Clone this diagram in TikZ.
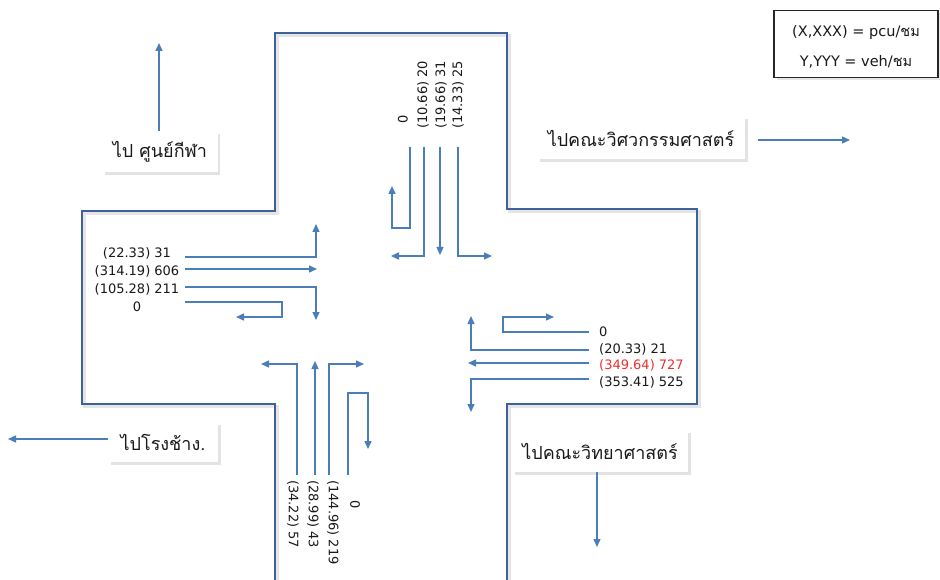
\documentclass[tikz,border=0pt]{standalone}
\usepackage{fontspec}
\setmainfont{DejaVu Sans}
\newfontfamily\thai[Script=Thai]{Loma}
\usetikzlibrary{arrows.meta,shadows}
\definecolor{roadc}{RGB}{62,98,152}
\definecolor{arrc}{RGB}{74,126,187}
\definecolor{redt}{RGB}{240,45,45}
\definecolor{txtc}{RGB}{25,25,25}
\begin{document}
\begin{tikzpicture}[x=1pt,y=-1pt,
  mv/.style={draw=arrc,line width=1.4pt,-{Triangle[length=8pt,width=7pt]}},
  lbl/.style={inner sep=0pt,text=txtc,font=\fontsize{13}{18}\selectfont},
  place/.style={fill=white,inner sep=0pt,text=txtc,font=\thai\fontsize{18}{20}\selectfont,
    drop shadow={shadow xshift=2.5pt,shadow yshift=-2.5pt,opacity=0.22}},
  roadline/.style={draw=roadc,line width=2.8pt,line join=miter}]
\useasboundingbox (0,0) rectangle (940,580);
\fill[white] (0,0) rectangle (940,580);

% road outline with a soft shadow
\draw[line width=3.5pt,black,opacity=0.1,shift={(2.5,2.5)}]
  (275,582) -- (275,404) -- (82,404) -- (82,211) -- (275,211) -- (275,33) -- (507,33)
  -- (507,209) -- (697,209) -- (697,404) -- (507,404) -- (507,582);
\draw[roadline]
  (275,582) -- (275,404) -- (82,404) -- (82,211) -- (275,211) -- (275,33) -- (507,33)
  -- (507,209) -- (697,209) -- (697,404) -- (507,404) -- (507,582);

% ---------- north approach ----------
\node[lbl,rotate=90,anchor=west] (n0) at (403,124) {0};
\node[lbl,rotate=90,anchor=west] (n1) at (423,129) {(10.66) 20};
\node[lbl,rotate=90,anchor=west] (n2) at (441,129) {(19.66) 31};
\node[lbl,rotate=90,anchor=west] (n3) at (458,129) {(14.33) 25};
\draw[mv] (410,147) -- (410,228) -- (392,228) -- (392,186);
\draw[mv] (424,147) -- (424,256) -- (391,256);
\draw[mv] (440,147) -- (440,255);
\draw[mv] (458,147) -- (458,256) -- (492,256);

% ---------- west approach ----------
\node[lbl,align=center] (w) at (137,280) {(22.33) 31\\(314.19) 606\\(105.28) 211\\0};
\draw[mv] (185,257) -- (316,257) -- (316,224);
\draw[mv] (185,269) -- (317,269);
\draw[mv] (185,287) -- (316,287) -- (316,320);
\draw[mv] (185,302) -- (282,302) -- (282,317) -- (236,317);

% ---------- east approach ----------
\node[lbl,anchor=west] (e0) at (599,332) {0};
\node[lbl,anchor=west] (e1) at (599,349) {(20.33) 21};
\node[lbl,anchor=west,text=redt] (e2) at (599,365) {(349.64) 727};
\node[lbl,anchor=west] (e3) at (599,382) {(353.41) 525};
\draw[mv] (589,332) -- (503,332) -- (503,317) -- (554,317);
\draw[mv] (589,350) -- (471,350) -- (471,316);
\draw[mv] (589,363) -- (468,363);
\draw[mv] (589,379) -- (471,379) -- (471,412);

% ---------- south approach ----------
\node[lbl,rotate=-90,anchor=west] (s1) at (293,480) {(34.22) 57};
\node[lbl,rotate=-90,anchor=west] (s2) at (313,480) {(28.99) 43};
\node[lbl,rotate=-90,anchor=west] (s3) at (333,480) {(144.96) 219};
\node[lbl,rotate=-90] (s0) at (355,505) {0};
\draw[mv] (297,475) -- (297,364) -- (261,364);
\draw[mv] (315,475) -- (315,361);
\draw[mv] (329,475) -- (329,364) -- (364,364);
\draw[mv] (348,475) -- (348,393) -- (368,393) -- (368,449);

% ---------- destination boxes ----------
\node[place,minimum width=115pt,minimum height=41pt] (sport) at (160,152) {ไป ศูนย์กีฬา};
\coordinate (sportTo) at (159,43);
\draw[mv] (sport.north -| sportTo) -- (sportTo);

\node[place,minimum width=208pt,minimum height=43pt] (eng) at (641,138) {ไปคณะวิศวกรรมศาสตร์};
\coordinate (engTo) at (850,140);
\draw[mv] ([xshift=13pt]eng.east |- engTo) -- (engTo);

\node[place,minimum width=110pt,minimum height=40pt] (rong) at (163,442) {ไปโรงช้าง.};
\coordinate (rongTo) at (8,439);
\draw[mv] (rong.west |- rongTo) -- (rongTo);

\node[place,minimum width=176pt,minimum height=42pt] (sci) at (600,451) {ไปคณะวิทยาศาสตร์};
\coordinate (sciTo) at (597,547);
\draw[mv] (sci.south -| sciTo) -- (sciTo);

% ---------- legend ----------
\node[draw=black!85,line width=1.3pt,fill=white,minimum width=164pt,minimum height=67pt,
  drop shadow={shadow xshift=2.5pt,shadow yshift=-2.5pt,opacity=0.2}] (legend) at (856,44) {};
\node[lbl,font=\fontsize{14.5}{16}\selectfont] (lg1) at (856,33) {(X,XXX) = pcu/{\thai ชม}};
\node[lbl,font=\fontsize{14.5}{16}\selectfont] (lg2) at (856,62) {Y,YYY = veh/{\thai ชม}};
\end{tikzpicture}
\end{document}
